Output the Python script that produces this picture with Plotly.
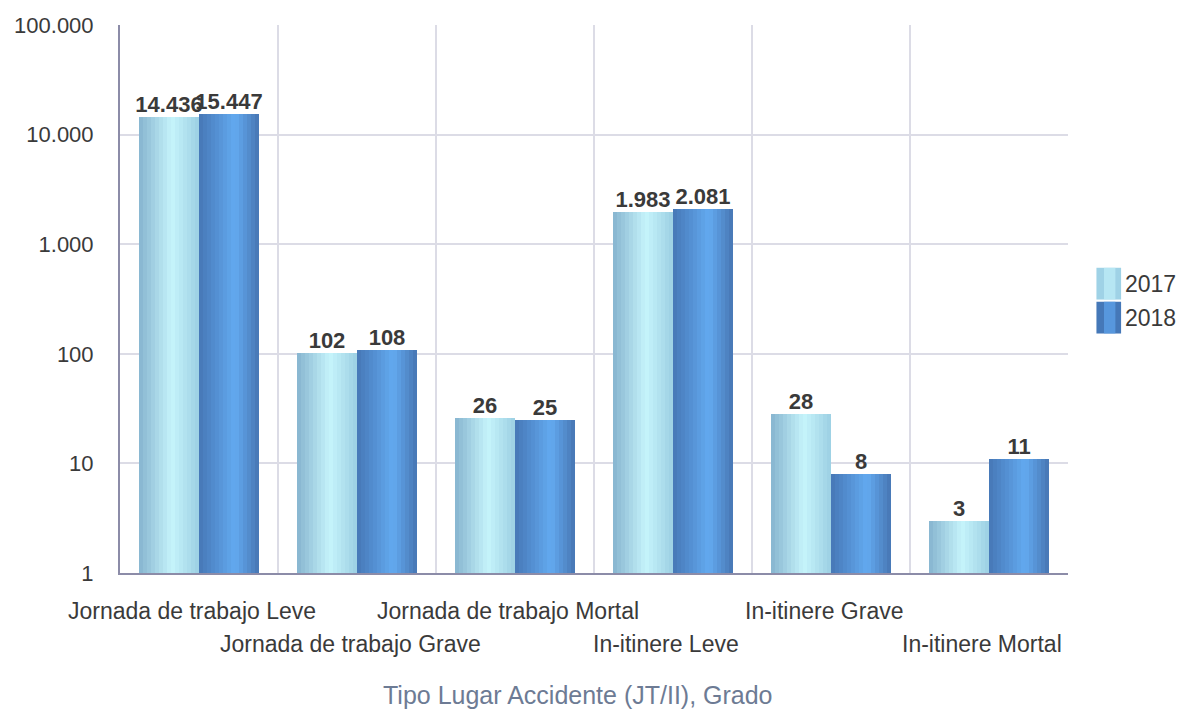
import plotly.graph_objects as go

categories = [
    "Jornada de trabajo Leve",
    "Jornada de trabajo Grave",
    "Jornada de trabajo Mortal",
    "In-itinere Leve",
    "In-itinere Grave",
    "In-itinere Mortal",
]
series_names = ["2017", "2018"]
values_2017 = [14436, 102, 26, 1983, 28, 3]
values_2018 = [15447, 108, 25, 2081, 8, 11]
y_tickvals = [1, 10, 100, 1000, 10000, 100000]
y_ticktext = ["1", "10", "100", "1.000", "10.000", "100.000"]
x_title = "Tipo Lugar Accidente (JT/II), Grado"

FONT = "Liberation Sans, Arial, sans-serif"
TXT = "#3a3a3a"

def fmt(v):
    return f"{v:,}".replace(",", ".")

def hex2rgb(h):
    h = h.lstrip("#")
    return tuple(int(h[i:i + 2], 16) for i in (0, 2, 4))

def grad(stops, t):
    for (t0, c0), (t1, c1) in zip(stops, stops[1:]):
        if t0 <= t <= t1:
            f = (t - t0) / (t1 - t0) if t1 > t0 else 0
            a, b = hex2rgb(c0), hex2rgb(c1)
            r = [round(a[i] + (b[i] - a[i]) * f) for i in range(3)]
            return f"rgb({r[0]},{r[1]},{r[2]})"
    return stops[-1][1]

gradients = {
    "2017": [(0, "#86b4cf"), (0.55, "#c6f4fb"), (1, "#9ccfe3")],
    "2018": [(0, "#4677b6"), (0.6, "#63aaf0"), (1, "#4776b3")],
}

bar_w = 0.38
n = 15
strip = bar_w / n

fig = go.Figure()
for s_idx, (name, vals) in enumerate(zip(series_names, [values_2017, values_2018])):
    base = -bar_w if s_idx == 0 else 0.0
    for k in range(n):
        t = (k + 0.5) / n
        mid = k == n // 2
        fig.add_trace(go.Bar(
            x=categories,
            y=vals,
            name=name,
            width=[strip * 1.08] * len(categories),
            offset=[base + k * strip] * len(categories),
            marker=dict(color=grad(gradients[name], t), line=dict(width=0)),
            text=[fmt(v) for v in vals] if mid else None,
            textposition="outside" if mid else "none",
            textangle=0,
            constraintext="none",
            cliponaxis=False,
            textfont=dict(family=FONT, size=22, color=TXT, weight="bold"),
            showlegend=False,
            hoverinfo="skip",
        ))

annotations = []
for i, c in enumerate(categories):
    annotations.append(dict(
        x=c, y=0, xref="x", yref="paper", text=c, showarrow=False,
        yanchor="top", yshift=-23 if i % 2 == 0 else -56, xshift=-7,
        font=dict(family=FONT, size=23, color=TXT),
    ))
annotations.append(dict(
    x=0.5, y=0, xref="paper", yref="paper", text=x_title, showarrow=False,
    yanchor="top", yshift=-106, xshift=-16,
    font=dict(family=FONT, size=25, color="#6d7b94"),
))

# custom legend (tall swatches, as in the reference)
shapes = []
legend_colors = {"2017": ("#9fd2e6", "#c0eef8"), "2018": ("#4578b8", "#5fa4ec")}
legend_top = 0.557
sw_h = 0.058
for j, name in enumerate(series_names):
    y1 = legend_top - j * (sw_h + 0.004)
    y0 = y1 - sw_h
    c_dark, c_light = legend_colors[name]
    shapes.append(dict(type="rect", xref="paper", yref="paper",
                       x0=1.030, x1=1.056, y0=y0, y1=y1,
                       fillcolor=c_dark, line=dict(width=0), layer="above"))
    shapes.append(dict(type="rect", xref="paper", yref="paper",
                       x0=1.038, x1=1.050, y0=y0, y1=y1,
                       fillcolor=c_light, line=dict(width=0), layer="above",
                       opacity=0.7))
    annotations.append(dict(
        x=1.058, y=(y0 + y1) / 2, xref="paper", yref="paper", text=name,
        showarrow=False, xanchor="left", yanchor="middle",
        font=dict(family=FONT, size=23, color=TXT),
    ))

fig.update_layout(
    width=1183, height=718,
    margin=dict(l=120, r=115, t=25, b=145),
    paper_bgcolor="white", plot_bgcolor="white",
    barmode="overlay",
    bargap=0,
    font=dict(family=FONT, size=20, color=TXT),
    showlegend=False,
    annotations=annotations,
    shapes=shapes,
    hovermode=False,
)
fig.update_xaxes(
    type="category", showticklabels=False, ticks="",
    showline=True, linecolor="#8c8ca8", linewidth=2,
    range=[-0.5, len(categories) - 0.5],
    tickmode="array", tickvals=[i - 0.5 for i in range(len(categories) + 1)],
    showgrid=True, gridcolor="#dcdce6", gridwidth=1.5,
)
fig.update_yaxes(
    type="log", range=[0, 5],
    tickvals=y_tickvals, ticktext=y_ticktext,
    tickfont=dict(family=FONT, size=22, color=TXT),
    ticks="", ticklabelstandoff=20,
    showgrid=True, gridcolor="#dcdce6", gridwidth=1.5,
    showline=True, linecolor="#8c8ca8", linewidth=2,
    zeroline=False,
)

fig.write_html("out.html")
